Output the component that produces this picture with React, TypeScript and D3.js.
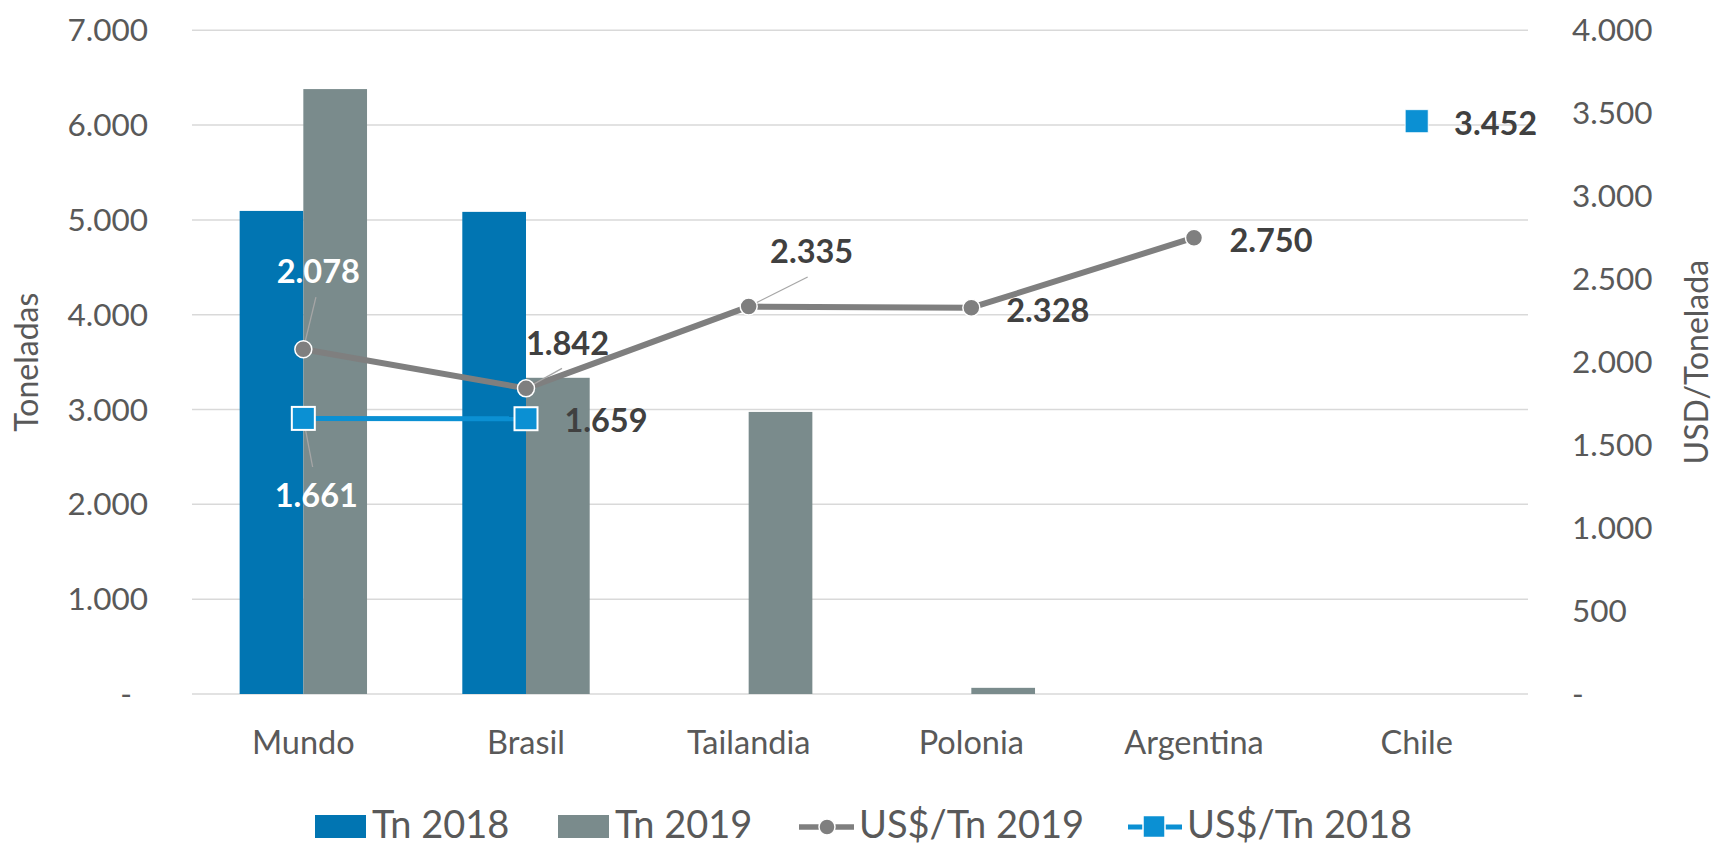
import React from "react";
import * as d3 from "d3";

// ---- data ----
const categories = ["Mundo", "Brasil", "Tailandia", "Polonia", "Argentina", "Chile"];
const tn2018: (number | null)[] = [5095, 5085, null, null, null, null];
const tn2019: (number | null)[] = [6380, 3335, 2975, 65, null, null];
const usd2019: (number | null)[] = [2078, 1842, 2335, 2328, 2750, null];
const usd2018: (number | null)[] = [1661, 1659, null, null, null, 3452];
const leftTicks = [0, 1000, 2000, 3000, 4000, 5000, 6000, 7000];
const rightTicks = [0, 500, 1000, 1500, 2000, 2500, 3000, 3500, 4000];
const legendLabels = ["Tn 2018", "Tn 2019", "US$/Tn 2019", "US$/Tn 2018"];

// ---- style ----
const W = 1715, H = 845;
const M = { left: 192, right: 1528, top: 30.3, bottom: 694 };
const C_BLUE = "#0175b2";
const C_GRAY = "#7a8b8c";
const C_LINE = "#7f7f7f";
const C_LBLUE = "#0b90d3";
const C_TEXT = "#595959";
const C_LABEL = "#404040";
const FONT = "Lato, 'Open Sans', sans-serif";

// label placement (offsets from marker), styling only
const lab2019 = [
  { dx: 15, dy: -66, fill: "#ffffff", leader: [12.6, -52] },
  { dx: 41.5, dy: -33, fill: C_LABEL, leader: [36, -20] },
  { dx: 63, dy: -43.6, fill: C_LABEL, leader: [59, -29.6] },
  { dx: 76.5, dy: 14, fill: C_LABEL, leader: null },
  { dx: 77, dy: 14, fill: C_LABEL, leader: null },
  null,
];
const lab2018 = [
  { dx: 13, dy: 89, fill: "#ffffff", leader: [9.3, 48.6] },
  { dx: 80, dy: 13, fill: C_LABEL, leader: null },
  null, null, null,
  { dx: 79, dy: 14, fill: C_LABEL, leader: null },
];

const loc = d3.formatLocale({ decimal: ",", thousands: ".", grouping: [3], currency: ["", ""] });
const fmt = loc.format(",.0f");
const tickFmt = (v: number) => (v === 0 ? "-" : fmt(v));

export default function App() {
  const x0 = d3.scaleBand<string>().domain(categories).range([M.left, M.right]).padding(0);
  const x1 = d3.scaleBand<string>().domain(["2018", "2019"]).range([0, x0.bandwidth()]).paddingInner(0).paddingOuter(0.748);
  const yL = d3.scaleLinear().domain([0, 7000]).range([M.bottom, M.top]);
  const yR = d3.scaleLinear().domain([0, 4000]).range([M.bottom, M.top]);
  const cx = (c: string) => (x0(c) as number) + x0.bandwidth() / 2;

  const line = d3
    .line<number | null>()
    .defined((d) => d != null)
    .x((_, i) => cx(categories[i]))
    .y((d) => yR(d as number));

  return (
    <svg width={W} height={H} style={{ position: "absolute", left: 0, top: 0, background: "#fff" }} fontFamily={FONT}>
      <rect x={0} y={0} width={W} height={H} fill="#fff" />
      {/* gridlines */}
      {leftTicks.map((t) => (
        <line key={"g" + t} x1={M.left} x2={M.right} y1={yL(t)} y2={yL(t)} stroke="#d9d9d9" strokeWidth={1.5} />
      ))}
      {/* left ticks */}
      {leftTicks.map((t) => (
        <text key={"l" + t} x={t === 0 ? 132 : 148} y={yL(t) + 11} textAnchor="end" fontSize={31.5} fill={C_TEXT}>
          {tickFmt(t)}
        </text>
      ))}
      {/* right ticks */}
      {rightTicks.map((t) => (
        <text key={"r" + t} x={1572} y={yR(t) + 11} textAnchor="start" fontSize={31.5} fill={C_TEXT}>
          {tickFmt(t)}
        </text>
      ))}
      {/* axis titles */}
      <text transform={`translate(38,${(M.top + M.bottom) / 2}) rotate(-90)`} textAnchor="middle" fontSize={32} fill={C_TEXT}>
        Toneladas
      </text>
      <text transform={`translate(1708,${(M.top + M.bottom) / 2}) rotate(-90)`} textAnchor="middle" fontSize={32} fill={C_TEXT}>
        USD/Tonelada
      </text>
      {/* category labels */}
      {categories.map((c) => (
        <text key={"c" + c} x={cx(c)} y={754} textAnchor="middle" fontSize={32.5} fill={C_TEXT}>
          {c}
        </text>
      ))}
      {/* bars */}
      {categories.map((c, i) => (
        <g key={"b" + c}>
          {tn2018[i] != null && (
            <rect x={(x0(c) as number) + (x1("2018") as number)} y={yL(tn2018[i] as number)} width={x1.bandwidth()} height={yL(0) - yL(tn2018[i] as number)} fill={C_BLUE} />
          )}
          {tn2019[i] != null && (
            <rect x={(x0(c) as number) + (x1("2019") as number)} y={yL(tn2019[i] as number)} width={x1.bandwidth()} height={yL(0) - yL(tn2019[i] as number)} fill={C_GRAY} />
          )}
        </g>
      ))}
      {/* lines */}
      <path d={line(usd2019) || ""} fill="none" stroke={C_LINE} strokeWidth={6} strokeLinejoin="round" />
      <path d={line(usd2018) || ""} fill="none" stroke={C_LBLUE} strokeWidth={5} />
      {/* leader lines */}
      {usd2019.map((v, i) => {
        const l = lab2019[i];
        if (v == null || !l || !l.leader) return null;
        const px = cx(categories[i]), py = yR(v);
        return <line key={"ld19" + i} x1={px} y1={py} x2={px + l.leader[0]} y2={py + l.leader[1]} stroke="#a6a6a6" strokeWidth={1.3} />;
      })}
      {usd2018.map((v, i) => {
        const l = lab2018[i];
        if (v == null || !l || !l.leader) return null;
        const px = cx(categories[i]), py = yR(v);
        return <line key={"ld18" + i} x1={px} y1={py} x2={px + l.leader[0]} y2={py + l.leader[1]} stroke="#a6a6a6" strokeWidth={1.3} />;
      })}
      {/* markers */}
      {usd2019.map((v, i) =>
        v == null ? null : (
          <circle key={"m19" + i} cx={cx(categories[i])} cy={yR(v)} r={8.5} fill={C_LINE} stroke="#fff" strokeWidth={1.5} />
        )
      )}
      {usd2018.map((v, i) =>
        v == null ? null : (
          <rect key={"m18" + i} x={cx(categories[i]) - 11.5} y={yR(v) - 11.5} width={23} height={23} fill={C_LBLUE} stroke="#fff" strokeWidth={i === 5 ? 0.8 : 2} />
        )
      )}
      {/* data labels */}
      {usd2019.map((v, i) => {
        const l = lab2019[i];
        if (v == null || !l) return null;
        return (
          <text key={"t19" + i} x={cx(categories[i]) + l.dx} y={yR(v) + l.dy} textAnchor="middle" fontSize={32.5} fontWeight="bold" fill={l.fill}>
            {fmt(v)}
          </text>
        );
      })}
      {usd2018.map((v, i) => {
        const l = lab2018[i];
        if (v == null || !l) return null;
        return (
          <text key={"t18" + i} x={cx(categories[i]) + l.dx} y={yR(v) + l.dy} textAnchor="middle" fontSize={32.5} fontWeight="bold" fill={l.fill}>
            {fmt(v)}
          </text>
        );
      })}
      {/* legend */}
      <g fontSize={38} fill={C_TEXT}>
        <rect x={315} y={815} width={51} height={23} fill={C_BLUE} />
        <text x={372} y={838}>{legendLabels[0]}</text>
        <rect x={558} y={815} width={51} height={23} fill={C_GRAY} />
        <text x={615} y={838}>{legendLabels[1]}</text>
        <line x1={799} x2={854} y1={827} y2={827} stroke={C_LINE} strokeWidth={5.5} />
        <circle cx={827} cy={827} r={8} fill={C_LINE} stroke="#fff" strokeWidth={1.5} />
        <text x={859} y={838}>{legendLabels[2]}</text>
        <line x1={1128} x2={1182} y1={827} y2={827} stroke={C_LBLUE} strokeWidth={5} />
        <rect x={1143} y={815.5} width={22} height={22} fill={C_LBLUE} stroke="#fff" strokeWidth={1.5} />
        <text x={1187} y={838}>{legendLabels[3]}</text>
      </g>
    </svg>
  );
}
